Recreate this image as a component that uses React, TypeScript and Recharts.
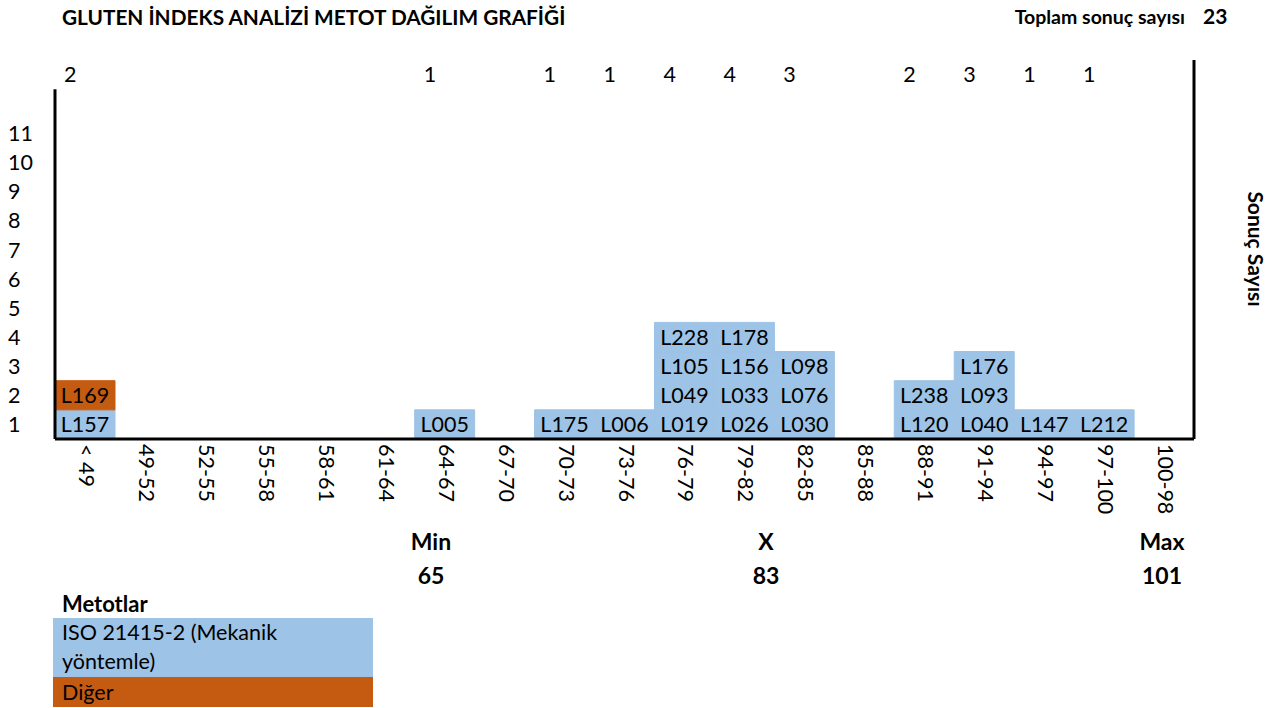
import React from 'react';
import { BarChart, Bar, XAxis, YAxis, Cell, LabelList, ReferenceLine } from 'recharts';

// ---------- data ----------
const categories = ['< 49', '49-52', '52-55', '55-58', '58-61', '61-64', '64-67', '67-70', '70-73', '73-76', '76-79', '79-82', '82-85', '85-88', '88-91', '91-94', '94-97', '97-100', '100-98'];

// laboratory codes per class, stacked from the bottom
const labsByClass: string[][] = [
  ['L157', 'L169'],
  [], [], [], [], [],
  ['L005'],
  [],
  ['L175'],
  ['L006'],
  ['L019', 'L049', 'L105', 'L228'],
  ['L026', 'L033', 'L156', 'L178'],
  ['L030', 'L076', 'L098'],
  [],
  ['L120', 'L238'],
  ['L040', 'L093', 'L176'],
  ['L147'],
  ['L212'],
  [],
];

const methodNames = ['ISO 21415-2 (Mekanik yöntemle)', 'Diğer'];
const otherMethodLabs = ['L169'];

const yTickLabels = [1, 2, 3, 4, 5, 6, 7, 8, 9, 10, 11];
const totalResults = 23;
const statNames = ['Min', 'X', 'Max'];
const statValues = [65, 83, 101];

// ---------- styles ----------
const BLUE = '#9DC3E6';
const ORANGE = '#C55A11';
const FONT = 'Lato, "Open Sans", sans-serif';
const FS = 21.5;
const BFS = 23;

const CHART_W = 1276;
const CHART_H = 530;
const MARGIN = { top: 30, right: 81, left: 0, bottom: 0 };
const TOP_H = 30;
const Y_W = 55;
const RIGHT_W = 1;
const X_H = 91;
const PLOT_W = CHART_W - MARGIN.right - MARGIN.left - Y_W - RIGHT_W;
const BAND = PLOT_W / categories.length;
const MAX_LEVEL = Math.max(...labsByClass.map((l) => l.length));

const rows = categories.map((cat, i) => {
  const labs = labsByClass[i];
  const r: any = { cat, count: labs.length };
  for (let k = 0; k < MAX_LEVEL; k++) {
    if (k < labs.length) {
      r['s' + k] = 1;
      r['l' + k] = labs[k];
      r['m' + k] = otherMethodLabs.includes(labs[k]) ? 1 : 0;
    } else {
      r['s' + k] = 0;
      r['l' + k] = '';
      r['m' + k] = 0;
    }
  }
  return r;
});
const countByCat: Record<string, number> = {};
rows.forEach((r) => (countByCat[r.cat] = r.count));

const YTick = (props: any) => {
  const { y, payload } = props;
  return (
    <text x={8} y={y} dominantBaseline="central" textAnchor="start" fontSize={FS} fill="#000">
      {payload.value + 0.5}
    </text>
  );
};

const CountTick = (props: any) => {
  const { x, y, payload } = props;
  const c = countByCat[payload.value];
  if (!c) return <g />;
  return (
    <text x={x - BAND / 2 + 9} y={y + 14} dominantBaseline="central" textAnchor="start" fontSize={FS} fill="#000">
      {c}
    </text>
  );
};

const CatTick = (props: any) => {
  const { x, y, payload } = props;
  return (
    <text
      x={x + 2}
      y={y}
      transform={`rotate(90, ${x + 2}, ${y})`}
      dominantBaseline="central"
      textAnchor="start"
      fontSize={FS}
      fill="#000"
    >
      {payload.value}
    </text>
  );
};

const abs = (extra: React.CSSProperties): React.CSSProperties => ({ position: 'absolute', margin: 0, ...extra });

export default function App() {
  return (
    <div style={{ position: 'absolute', left: 0, top: 0, width: 1276, height: 708, background: '#fff', fontFamily: FONT, color: '#000', overflow: 'hidden' }}>
      <div style={abs({ left: 62, top: 4, fontSize: 20.8, fontWeight: 700, whiteSpace: 'nowrap' })}>
        GLUTEN İNDEKS ANALİZİ METOT DAĞILIM GRAFİĞİ
      </div>
      <div style={abs({ left: 985, top: 5, width: 200, fontSize: 19.5, fontWeight: 700, whiteSpace: 'nowrap', textAlign: 'right' })}>
        Toplam sonuç sayısı
      </div>
      <div style={abs({ left: 1203, top: 3, fontSize: 21, fontWeight: 700 })}>{totalResults}</div>

      <div style={abs({ left: 0, top: 0 })}>
        <BarChart width={CHART_W} height={CHART_H} data={rows} margin={MARGIN} barCategoryGap={0} barGap={0}>
          <XAxis
            dataKey="cat"
            interval={0}
            height={X_H}
            tickLine={false}
            tickSize={0}
            tickMargin={5}
            axisLine={{ stroke: '#000', strokeWidth: 3 }}
            tick={<CatTick />}
          />
          <XAxis
            xAxisId="top"
            dataKey="cat"
            orientation="top"
            interval={0}
            height={TOP_H}
            tickLine={false}
            tickSize={0}
            tickMargin={0}
            axisLine={false}
            tick={<CountTick />}
          />
          <XAxis xAxisId="num" type="number" domain={[0, categories.length]} hide allowDataOverflow />
          <YAxis
            type="number"
            domain={[0, 13]}
            ticks={yTickLabels.map((v) => v - 0.5)}
            width={Y_W}
            axisLine={false}
            tickLine={false}
            tick={<YTick />}
            allowDataOverflow
          />
          <YAxis
            yAxisId="right"
            orientation="right"
            type="number"
            domain={[0, 13]}
            width={RIGHT_W}
            tick={false}
            tickLine={false}
            axisLine={{ stroke: '#000', strokeWidth: 3 }}
          />
          {Array.from({ length: MAX_LEVEL }).map((_, k) => (
            <Bar key={k} dataKey={'s' + k} stackId="a" isAnimationActive={false}>
              {rows.map((r, i) => {
                const c = r['m' + k] ? ORANGE : BLUE;
                return <Cell key={i} fill={c} stroke={c} strokeWidth={1} />;
              })}
              <LabelList dataKey={'l' + k} position="center" fill="#000" stroke="none" fontSize={FS} />
            </Bar>
          ))}
          <ReferenceLine xAxisId="num" segment={[{ x: 0, y: 0 }, { x: 0, y: 12 }]} stroke="#000" strokeWidth={3} ifOverflow="visible" />
        </BarChart>
      </div>

      <div style={abs({ left: 1256, top: 249, fontSize: 21, fontWeight: 700, whiteSpace: 'nowrap', transform: 'translate(0, -50%) rotate(90deg)', transformOrigin: 'center', width: 0, display: 'flex', justifyContent: 'center' })}>
        <span>Sonuç Sayısı</span>
      </div>

      {statNames.map((n, i) => {
        const cx = [431, 766, 1162][i];
        return (
          <React.Fragment key={n}>
            <div style={abs({ left: cx - 60, width: 120, top: 527, textAlign: 'center', fontSize: BFS, fontWeight: 700 })}>{n}</div>
            <div style={abs({ left: cx - 60, width: 120, top: 561, textAlign: 'center', fontSize: BFS, fontWeight: 700 })}>{statValues[i]}</div>
          </React.Fragment>
        );
      })}

      <div style={abs({ left: 62, top: 590, fontSize: 22, fontWeight: 700 })}>Metotlar</div>
      <div style={abs({ left: 53, top: 618, width: 320, height: 59, background: BLUE, fontSize: FS, lineHeight: '29px', paddingLeft: 9, boxSizing: 'border-box' })}>
        ISO 21415-2 (Mekanik
        <br />
        yöntemle)
      </div>
      <div style={abs({ left: 53, top: 677, width: 320, height: 30, background: ORANGE, fontSize: FS, lineHeight: '30px', paddingLeft: 9, boxSizing: 'border-box' })}>
        {methodNames[1]}
      </div>
    </div>
  );
}
